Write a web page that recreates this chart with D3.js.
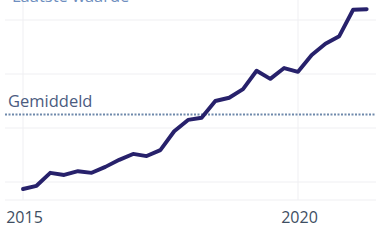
<!DOCTYPE html>
<html><head><meta charset="utf-8">
<script src="https://cdn.jsdelivr.net/npm/d3@7"></script>
<style>
html,body{margin:0;padding:0;background:#fff;}
svg{display:block;font-family:"Open Sans",sans-serif;}
</style></head>
<body>
<svg id="c" width="376" height="241"></svg>
<script>
// Quarterly index values, starting 2015 Q1
const startYear = 2015;
const values = [98.7, 99.3, 101.7, 101.3, 102.0, 101.7, 102.8, 104.1, 105.2, 104.8,
  105.9, 109.4, 111.5, 111.9, 115.0, 115.6, 117.2, 120.6, 119.1, 121.1,
  120.4, 123.5, 125.6, 127.0, 131.9, 132.0];
const gridValues = [100, 110, 120, 130];
const average = 112.5;
const averageLabel = "Gemiddeld";
const topLabel = "Laatste waarde";
const tickYears = [2015, 2020];

const data = values.map((v, i) => ({date: new Date(startYear, i * 3, 1), value: v}));

const svg = d3.select("#c");
const x = d3.scaleTime().domain([new Date(2015, 0, 1), new Date(2020, 0, 1)]).range([23, 298]);
const y = d3.scaleLinear().domain([100, 130]).range([182, 20]);
const left = 5, right = 376, bottom = 200;

// horizontal gridlines
svg.append("g").selectAll("line").data(gridValues).join("line")
  .attr("x1", left).attr("x2", right)
  .attr("y1", d => y(d)).attr("y2", d => y(d))
  .attr("stroke", "#efeff2").attr("stroke-width", 1);
// baseline
svg.append("line").attr("x1", left).attr("x2", right).attr("y1", bottom).attr("y2", bottom)
  .attr("stroke", "#efeff2");
// vertical gridlines
svg.append("g").selectAll("line").data(tickYears).join("line")
  .attr("x1", d => x(new Date(d, 0, 1))).attr("x2", d => x(new Date(d, 0, 1)))
  .attr("y1", 0).attr("y2", bottom)
  .attr("stroke", "#efeff2");

// top label (cut off at the top edge, as in the reference)
svg.append("text").attr("x", 12).attr("y", 1.5).attr("font-size", 16.5)
  .attr("fill", "#6f8fc0").text(topLabel);

// average line
svg.append("line").attr("x1", left).attr("x2", right)
  .attr("y1", y(average)).attr("y2", y(average))
  .attr("stroke", "#6f89ab").attr("stroke-width", 2).attr("stroke-dasharray", "2,1.5");
svg.append("text").attr("x", 8).attr("y", y(average) - 8).attr("font-size", 16.5)
  .attr("fill", "#4b5b80").text(averageLabel);

// x axis
const axis = d3.axisBottom(x)
  .tickValues(tickYears.map(d => new Date(d, 0, 1)))
  .tickFormat(d3.timeFormat("%Y")).tickSize(0).tickPadding(0);
const ag = svg.append("g").attr("transform", "translate(1,212)").call(axis);
ag.select(".domain").remove();
ag.selectAll("text").attr("font-size", 16).attr("fill", "#3e4e62")
  .attr("font-family", "'Open Sans',sans-serif");

// line
const line = d3.line().x(d => x(d.date)).y(d => y(d.value));
svg.append("path").datum(data).attr("d", line)
  .attr("fill", "none").attr("stroke", "#27216b").attr("stroke-width", 3.9)
  .attr("stroke-linejoin", "round").attr("stroke-linecap", "round");
</script>
</body></html>
